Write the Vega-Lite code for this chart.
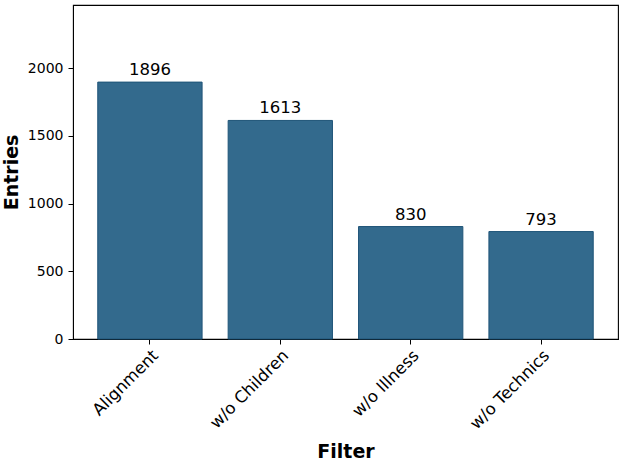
{
  "$schema": "https://vega.github.io/schema/vega-lite/v6.json",
  "autosize": {"type": "none"},
  "padding": {"left": 73, "top": 5, "right": 6, "bottom": 122},
  "width": 545,
  "height": 334,
  "config": {
    "view": {"stroke": "#000000", "strokeWidth": 1.1},
    "font": "DejaVu Sans",
    "axis": {"grid": false, "domainColor": "#000000", "tickColor": "#000000", "tickSize": 5, "labelColor": "#000000", "labelFontSize": 14, "labelFont": "DejaVu Sans", "titleFont": "DejaVu Sans", "titleFontSize": 19, "titleFontWeight": "bold", "titleColor": "#000000"}
  },
  "data": {"values": [
    {"Filter": "Alignment", "Entries": 1896},
    {"Filter": "w/o Children", "Entries": 1613},
    {"Filter": "w/o Illness", "Entries": 830},
    {"Filter": "w/o Technics", "Entries": 793}
  ]},
  "encoding": {
    "x": {"field": "Filter", "type": "nominal", "sort": null,
      "scale": {"paddingInner": 0.2, "paddingOuter": 0.19},
      "axis": {"title": "Filter", "labelAngle": -45, "labelAlign": "right", "labelBaseline": "top", "labelFontSize": 16.5, "labelPadding": 3, "titlePadding": 10}},
    "y": {"field": "Entries", "type": "quantitative",
      "scale": {"domain": [0, 2465], "nice": false},
      "axis": {"title": "Entries", "format": "d", "values": [0, 500, 1000, 1500, 2000], "labelPadding": 5, "titlePadding": 6}}
  },
  "layer": [
    {"mark": {"type": "bar", "color": "#336a8d", "stroke": "#1f5478", "strokeWidth": 1}},
    {"mark": {"type": "text", "baseline": "alphabetic", "dy": -7, "fontSize": 16.5, "font": "DejaVu Sans", "color": "#000000"},
     "encoding": {"text": {"field": "Entries", "type": "quantitative"}}}
  ]
}
